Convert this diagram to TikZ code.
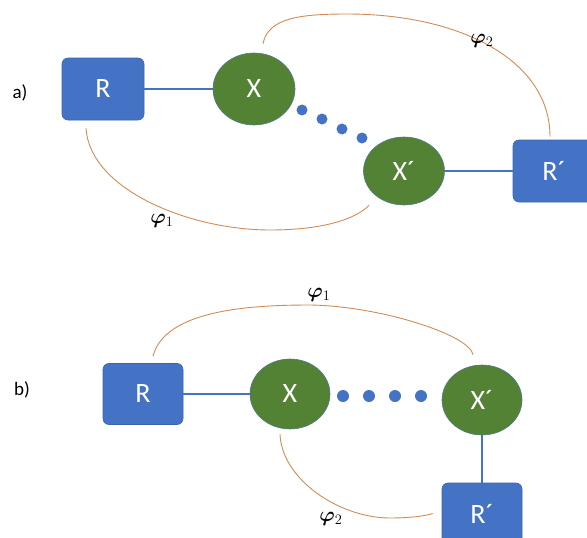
\documentclass[tikz,border=0pt]{standalone}
\usepackage{fontspec}
\usepackage{bm}
\setmainfont{Carlito}
\usetikzlibrary{shapes.geometric}
\definecolor{boxblue}{HTML}{4472C4}
\definecolor{boxedge}{HTML}{3A64B0}
\definecolor{sitegreen}{HTML}{548235}
\definecolor{siteedge}{HTML}{4F7A8C}
\definecolor{arcorange}{HTML}{D38B55}
\begin{document}
\begin{tikzpicture}[x=1pt,y=-1pt,
            rbox/.style={rectangle, rounded corners=6pt, fill=boxblue, draw=boxedge, line width=0.6pt,
                inner sep=0pt, minimum width=82pt, minimum height=62pt, text=white, font=\fontsize{28}{28}\selectfont},
            site/.style={ellipse, fill=sitegreen, draw=siteedge, line width=0.6pt,
                inner sep=0pt, text=white, font=\fontsize{28}{28}\selectfont},
            link/.style={draw=boxblue, line width=1.4pt},
            phiarc/.style={draw=arcorange, line width=0.9pt},
            dotmark/.style={circle, fill=boxblue, inner sep=0pt, minimum size=11pt},
            tag/.style={font=\fontsize{19}{19}\selectfont},
            philabel/.style={font=\fontsize{20}{20}\selectfont}]
            \useasboundingbox (0,0) rectangle (587,538);
            \node [tag] (taga) at (20,93) {a)};
            \node [rbox] (Ra) at (103,89) {R};
            \node [site, minimum width=82pt, minimum height=72pt] (Xa) at (254,89) {X};
            \node [site, minimum width=81pt, minimum height=68pt] (Xpa) at (404,171) {X´};
            \node [rbox] (Rpa) at (554,171) {R´};
            \draw [link] (Ra) -- (Xa);
            \draw [link] (Xpa) -- (Rpa);
            \foreach \px/\py [count=\i] in {302/110, 322/119, 342/129, 362/138}
                \node [dotmark] (dota\i) at (\px,\py) {};
            \draw [phiarc] ([shift={(9,-9)}]Xa.north) .. controls (268,18) and (300,14) .. (347,14)
                .. controls (460,14) and (550,60) .. ([shift={(-4,-3)}]Rpa.north);
            \draw [phiarc] ([shift={(-17,8)}]Ra.south) .. controls (90,190) and (190,230) .. (270,230)
                .. controls (320,230) and (355,220) .. ([shift={(-35,0)}]Xpa.south);
            \node [philabel] (phia1) at (162,221) {$\bm{\varphi}_1$};
            \node [philabel] (phia2) at (482,41) {$\bm{\varphi}_2$};
            \node [tag] (tagb) at (22,390) {b)};
            \node [rbox, minimum width=80pt, minimum height=61pt] (Rb) at (143,394) {R};
            \node [site, minimum width=80pt, minimum height=70pt] (Xb) at (290,394) {X};
            \node [site, minimum width=80pt, minimum height=70pt] (Xpb) at (482,400) {X´};
            \node [rbox, minimum width=80pt, minimum height=61pt] (Rpb) at (482,513.5) {R´};
            \draw [link] (Rb) -- (Xb);
            \draw [link] (Xpb) -- (Rpb);
            \foreach \px [count=\i] in {343, 369, 395, 421}
                \node [dotmark, minimum size=12pt] (dotb\i) at (\px,396) {};
            \draw [phiarc] ([shift={(10,-7)}]Rb.north) .. controls (165,310) and (250,305) .. (310,305)
                .. controls (380,306) and (470,335) .. ([shift={(-9,-10)}]Xpb.north);
            \draw [phiarc] ([shift={(-10,5)}]Xb.south) .. controls (282,480) and (340,518) .. (390,518)
                .. controls (410,518) and (425,516) .. ([xshift=-9pt]Rpb.west);
            \node [philabel] (phib1) at (319,295) {$\bm{\varphi}_1$};
            \node [philabel] (phib2) at (331,519) {$\bm{\varphi}_2$};
\end{tikzpicture}
\end{document}
